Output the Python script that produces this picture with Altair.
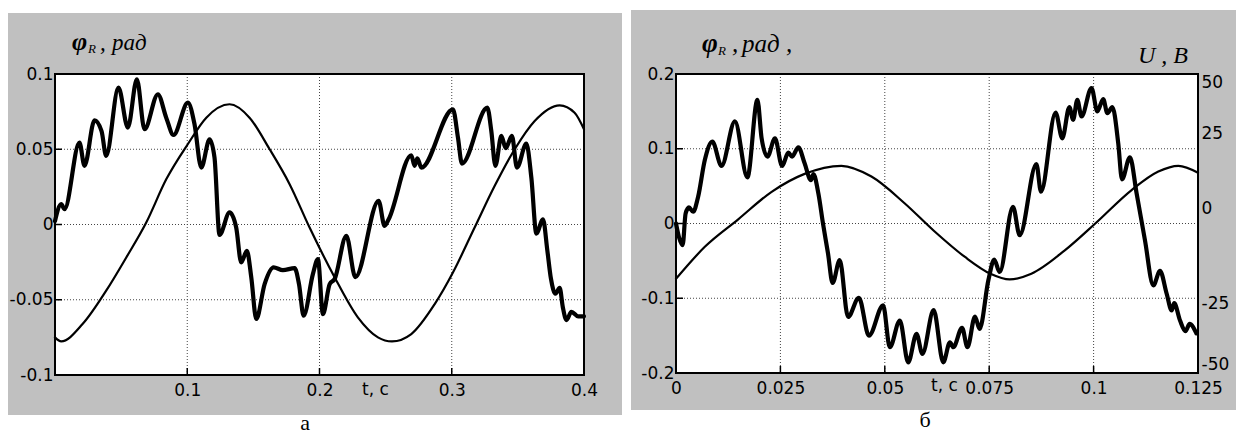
import altair as alt
import pandas as pd

# ---------------- data ----------------
# panel "а": phi_R (thick) and the reference sine (thin), t in s
A_T_THICK = [0.0, 0.0047, 0.0072, 0.0185, 0.0223, 0.0299, 0.0352, 0.0387, 0.048, 0.0551,
             0.0619, 0.0677, 0.0778, 0.0841, 0.0896, 0.1005, 0.1055, 0.1106, 0.1169, 0.1206,
             0.1244, 0.132, 0.137, 0.1408, 0.1451, 0.1484, 0.1522, 0.1585, 0.1653, 0.1723,
             0.1812, 0.1845, 0.188, 0.195, 0.1988, 0.2026, 0.2077, 0.2114, 0.2203, 0.2271,
             0.2447, 0.2492, 0.2523, 0.2694, 0.2719, 0.274, 0.277, 0.3009, 0.3047, 0.3077,
             0.3269, 0.3299, 0.333, 0.3375, 0.3408, 0.3455, 0.3493, 0.3564, 0.3602, 0.364,
             0.369, 0.3723, 0.375, 0.3784, 0.3816, 0.384, 0.3867, 0.3905, 0.3955, 0.4]
A_PHI_THICK = [0.0024, 0.0135, 0.0102, 0.0544, 0.039, 0.0692, 0.062, 0.0456, 0.0909, 0.0644,
               0.0965, 0.0633, 0.0865, 0.071, 0.0595, 0.081, 0.0666, 0.0378, 0.0566, 0.0445,
               -0.0069, 0.008, -0.002, -0.0252, -0.0175, -0.035, -0.0628, -0.0396, -0.0285, -0.0303,
               -0.029, -0.0396, -0.0606, -0.033, -0.023, -0.0595, -0.0396, -0.0363, -0.0075, -0.035,
               0.0157, -0.0009, 0.0035, 0.046, 0.039, 0.044, 0.0378, 0.0765, 0.0577, 0.0405,
               0.0776, 0.0622, 0.0389, 0.0589, 0.0507, 0.0589, 0.0378, 0.0537, 0.031, -0.006,
               0.0035, -0.0174, -0.036, -0.046, -0.0421, -0.055, -0.0635, -0.058, -0.061, -0.061]
A_T_THIN = [0.0, 0.0047, 0.021, 0.0387, 0.0539, 0.069, 0.0841, 0.1005, 0.1144, 0.132,
            0.1471, 0.1623, 0.1774, 0.1925, 0.2114, 0.229, 0.2442, 0.2548, 0.2694, 0.2871,
            0.3009, 0.3173, 0.3325, 0.3476, 0.3627, 0.3816, 0.3929, 0.4]
A_PHI_THIN = [-0.075, -0.0777, -0.066, -0.044, -0.0219, 0.0013, 0.030, 0.0535, 0.071, 0.0799,
              0.071, 0.05, 0.0268, -0.002, -0.035, -0.0617, -0.075, -0.0777, -0.0728, -0.0529,
              -0.0319, -0.002, 0.0257, 0.05, 0.0688, 0.0792, 0.0743, 0.0633]

# panel "б": phi_R (thick, left axis) and U (thin, right axis)
B_T_THICK = [0.0, 0.0007, 0.0016, 0.0023, 0.0031, 0.0041, 0.0053, 0.0069, 0.0087, 0.0109,
             0.0141, 0.0171, 0.0195, 0.0205, 0.0219, 0.0237, 0.0254, 0.0269, 0.0278, 0.0293,
             0.0308, 0.0323, 0.0329, 0.0341, 0.0352, 0.0364, 0.0375, 0.0392, 0.0412, 0.0438,
             0.0462, 0.0496, 0.0512, 0.0536, 0.0556, 0.0576, 0.059, 0.0617, 0.064, 0.0656,
             0.0664, 0.0685, 0.0698, 0.0716, 0.0727, 0.0748, 0.0762, 0.0775, 0.0807, 0.0823,
             0.0863, 0.0874, 0.0909, 0.0925, 0.0942, 0.0951, 0.0961, 0.0971, 0.0995, 0.1009,
             0.1023, 0.1033, 0.1045, 0.1059, 0.1068, 0.1087, 0.1103, 0.1123, 0.1143, 0.1159,
             0.1175, 0.1187, 0.1193, 0.1207, 0.122, 0.123, 0.1246]
B_PHI_THICK = [0.0, -0.018, -0.029, 0.0134, 0.0215, 0.0157, 0.0358, 0.085, 0.1096, 0.077,
               0.1365, 0.0617, 0.1655, 0.114, 0.0895, 0.114, 0.077, 0.0949, 0.0895, 0.102,
               0.0805, 0.058, 0.066, 0.04, 0.0, -0.04, -0.0796, -0.049, -0.125, -0.0993,
               -0.15, -0.1096, -0.1655, -0.1298, -0.1857, -0.1477, -0.1745, -0.116, -0.1857, -0.159,
               -0.1655, -0.1396, -0.1655, -0.1244, -0.141, -0.076, -0.0483, -0.0649, 0.0224, -0.0157,
               0.0796, 0.0425, 0.1485, 0.114, 0.1557, 0.1387, 0.1655, 0.1432, 0.1812, 0.1499,
               0.1665, 0.1477, 0.1557, 0.1074, 0.0591, 0.0886, 0.0403, -0.0224, -0.0828, -0.0635,
               -0.094, -0.1163, -0.1065, -0.1298, -0.1441, -0.1342, -0.1468]
B_T_THIN = [0.0, 0.0069, 0.0149, 0.0229, 0.0308, 0.0396, 0.0468, 0.0548, 0.0618, 0.0692,
            0.0753, 0.0799, 0.0851, 0.0931, 0.1004, 0.1091, 0.1155, 0.1203, 0.125]
B_U_THIN = [-18.5, -7.8, 1.4, 10.6, 16.6, 19.3, 15.7, 6.7, -2.5, -11.2,
            -16.8, -18.7, -16.8, -9.0, 0.0, 11.2, 17.4, 19.3, 17.0]

# axis values
A_XLABELS = [0.1, 0.2, 0.3, 0.4]
A_XGRID = [0.1, 0.2, 0.3]
A_YLABELS = [0.1, 0.05, 0.0, -0.05, -0.1]
A_YGRID = [0.05, 0.0, -0.05]
B_XLABELS = [0.0, 0.025, 0.05, 0.075, 0.1, 0.125]
B_XGRID = [0.025, 0.05, 0.075, 0.1]
B_YLABELS = [0.2, 0.1, 0.0, -0.1, -0.2]
B_YGRID = [0.1, 0.0, -0.1]
B_ULABELS = [50, 25, 0, -25, -50]

# ---------------- styling ----------------
GRAY = "#c0c0c0"
GRID = "#444444"
SANS = "DejaVu Sans"
SERIF = "Liberation Serif"
LBL = 17

one = pd.DataFrame({"k": [0]})


def vrect(x, x2, y, y2, **kw):
    return alt.Chart(one).mark_rect(**kw).encode(
        x=alt.value(x), x2=alt.value(x2), y=alt.value(y), y2=alt.value(y2))


def vtext(txt, x, y, size, style="italic", weight="normal", align="left", font=SERIF):
    return alt.Chart(one).mark_text(
        text=txt, font=font, fontSize=size, fontStyle=style, fontWeight=weight,
        align=align, baseline="alphabetic", color="black").encode(
        x=alt.value(x), y=alt.value(y))


def x_axis(values, title_x, title_y):
    return alt.Axis(values=values, labelExpr="'' + datum.value", grid=False, ticks=False,
                    tickSize=0, domain=False, labelFlush=False, labelOverlap=False,
                    labelFont=SANS, labelFontSize=LBL, labelColor="black",
                    labelBaseline="alphabetic", labelPadding=20, labelAngle=0,
                    title="t, c", titleFont=SANS, titleFontSize=LBL, titleFontWeight="normal",
                    titleColor="black", titleX=title_x, titleY=title_y, titleAlign="center",
                    titleBaseline="alphabetic", zindex=1)


def y_axis(values):
    return alt.Axis(values=values, labelExpr="'' + datum.value", grid=False, ticks=False,
                    tickSize=0, domain=False, labelFlush=False, labelOverlap=False,
                    labelFont=SANS, labelFontSize=LBL, labelColor="black", labelPadding=2,
                    title=None, zindex=1)


def common_layers(W, H, X, Y, xgrid, ygrid):
    gx = alt.Chart(pd.DataFrame({"t": xgrid})).mark_rule(
        color=GRID, strokeDash=[1, 2], strokeWidth=1).encode(x=X)
    gy = alt.Chart(pd.DataFrame({"val": ygrid})).mark_rule(
        color=GRID, strokeDash=[1, 2], strokeWidth=1).encode(y=Y)
    tx = alt.Chart(pd.DataFrame({"t": xgrid})).mark_rule(
        color="black", strokeWidth=1.5).encode(x=X, y=alt.value(H), y2=alt.value(H - 7))
    ty = alt.Chart(pd.DataFrame({"val": ygrid})).mark_rule(
        color="black", strokeWidth=1.5).encode(y=Y, x=alt.value(0), x2=alt.value(7))
    return [gx, gy, tx, ty]


def curve(ts, vs, X, Y, width, field="val"):
    df = pd.DataFrame({"t": ts, field: vs})
    return alt.Chart(df).mark_line(color="black", strokeWidth=width, interpolate="monotone",
                                   strokeJoin="round", strokeCap="round").encode(x=X, y=Y)


# ---------------- panel а ----------------
AW, AH = 529, 301
AX = alt.X("t:Q", scale=alt.Scale(domain=[0, 0.4], nice=False, zero=False),
           axis=x_axis(A_XLABELS, 320, 19))
AY = alt.Y("val:Q", scale=alt.Scale(domain=[-0.1, 0.1], nice=False, zero=False),
           axis=y_axis(A_YLABELS))

panel_a = alt.layer(
    vrect(-47, 567, -61, 341, color=GRAY),
    vrect(0, AW, 0, AH, color="white"),
    *common_layers(AW, AH, AX, AY, A_XGRID, A_YGRID),
    curve(A_T_THIN, A_PHI_THIN, AX, AY, 2.2),
    curve(A_T_THICK, A_PHI_THICK, AX, AY, 4.2),
    vrect(0, AW, 0, AH, fillOpacity=0, stroke="black", strokeWidth=2),
    vtext("φ", 17, -24, 26, weight="bold"),
    vtext("R", 33, -21, 13),
    vtext(",", 45, -24, 23),
    vtext("рад", 57, -24, 23),
    vtext("а", 250, 356, 22, style="normal", align="center"),
).properties(width=AW, height=AH)

# ---------------- panel б ----------------
BW, BH = 522, 299
BX = alt.X("t:Q", scale=alt.Scale(domain=[0, 0.125], nice=False, zero=False),
           axis=x_axis(B_XLABELS, 268, 17))
BY = alt.Y("val:Q", scale=alt.Scale(domain=[-0.2, 0.2], nice=False, zero=False),
           axis=y_axis(B_YLABELS))
BU = alt.Y("U:Q", scale=alt.Scale(domain=[-50, 50], nice=False, zero=False),
           axis=alt.Axis(orient="right", values=B_ULABELS, labelExpr="'' + datum.value",
                         grid=False, ticks=False, tickSize=0, domain=False, labelFlush=True,
                         labelOverlap=False, labelFont=SANS, labelFontSize=LBL,
                         labelColor="black", labelPadding=3, title=None, zindex=1,
                         labelOffset={"condition": [
                             {"test": "datum.value == 25 || datum.value == 0", "value": -15},
                             {"test": "datum.value == -25", "value": 5}],
                             "value": 0}))

inner_b = alt.layer(
    vrect(-45, 560, -64, 336, color=GRAY),
    vrect(0, BW, 0, BH, color="white"),
    *common_layers(BW, BH, BX, BY, B_XGRID, B_YGRID),
    curve(B_T_THICK, B_PHI_THICK, BX, BY, 4.2),
    vrect(0, BW, 0, BH, fillOpacity=0, stroke="black", strokeWidth=2),
    vtext("φ", 26, -22, 27, weight="bold"),
    vtext("R", 42, -19, 13),
    vtext(",", 56, -22, 25),
    vtext("рад ,", 66, -22, 25),
    vtext("U , B", 462, -11, 24),
    vtext("б", 249, 353, 22, style="normal", align="center"),
)
panel_b = alt.layer(
    inner_b,
    curve(B_T_THIN, B_U_THIN, BX, BU, 2.2, field="U"),
).resolve_scale(y="independent").properties(width=BW, height=BH)

chart = alt.hconcat(panel_a, panel_b, spacing=9).properties(
    padding={"left": 0, "top": 2, "right": 0, "bottom": 0}
).configure_view(stroke=None)

chart.save("out.html", embed_options={"renderer": "svg", "actions": False})
